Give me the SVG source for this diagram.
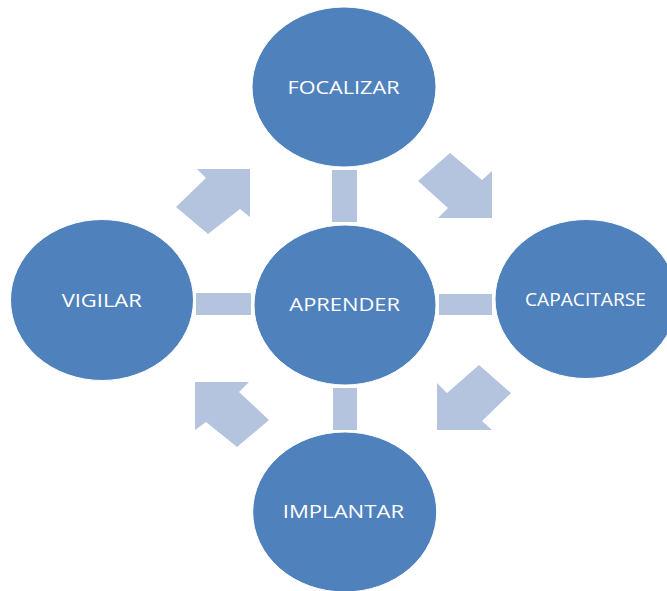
<svg xmlns="http://www.w3.org/2000/svg" width="667" height="591" viewBox="0 0 667 591">
<style>
.node ellipse{fill:#4f81bd;stroke:#ffffff;stroke-width:1}
.node text{fill:#ffffff;font-family:"Open Sans","Liberation Sans",sans-serif;font-size:19px;text-anchor:middle}
.conn{fill:#b4c4df}
</style>
<rect width="667" height="591" fill="#ffffff"/>
<g id="connectors">
<rect class="conn" x="332" y="170" width="25" height="52"/>
<rect class="conn" x="333" y="388" width="24" height="42"/>
<rect class="conn" x="196" y="293" width="55" height="22"/>
<rect class="conn" x="439" y="294" width="53" height="21"/>
<polygon class="conn" points="197,169 250,169 250,217 240,209 208,234 176,207 206,178"/>
<polygon class="conn" points="450,153 482,180 492,171 492,218 438,218 448,208 418,181"/>
<polygon class="conn" points="479,365 511,393 482,421 492,430 437,430 437,383 447,393"/>
<polygon class="conn" points="195,382 249,382 239,392 269,420 237,447 206,422 195,430"/>
</g>
<g id="focalizar" class="node">
<ellipse cx="344" cy="87" rx="92" ry="80"/>
<text x="343.5" y="94" textLength="112" lengthAdjust="spacingAndGlyphs">FOCALIZAR</text>
</g>
<g id="vigilar" class="node">
<ellipse cx="102" cy="300" rx="91.5" ry="80.5"/>
<text x="101.7" y="306.7" textLength="80" lengthAdjust="spacingAndGlyphs">VIGILAR</text>
</g>
<g id="aprender" class="node">
<ellipse cx="345" cy="305" rx="91" ry="80"/>
<text x="344.7" y="310.7" textLength="110.7" lengthAdjust="spacingAndGlyphs">APRENDER</text>
</g>
<g id="capacitarse" class="node">
<ellipse cx="586" cy="299" rx="91" ry="79.5"/>
<text x="585.5" y="305.7" textLength="121" lengthAdjust="spacingAndGlyphs">CAPACITARSE</text>
</g>
<g id="implantar" class="node">
<ellipse cx="344.7" cy="512" rx="92" ry="80"/>
<text x="343.4" y="518.3" textLength="121.3" lengthAdjust="spacingAndGlyphs">IMPLANTAR</text>
</g>
</svg>
